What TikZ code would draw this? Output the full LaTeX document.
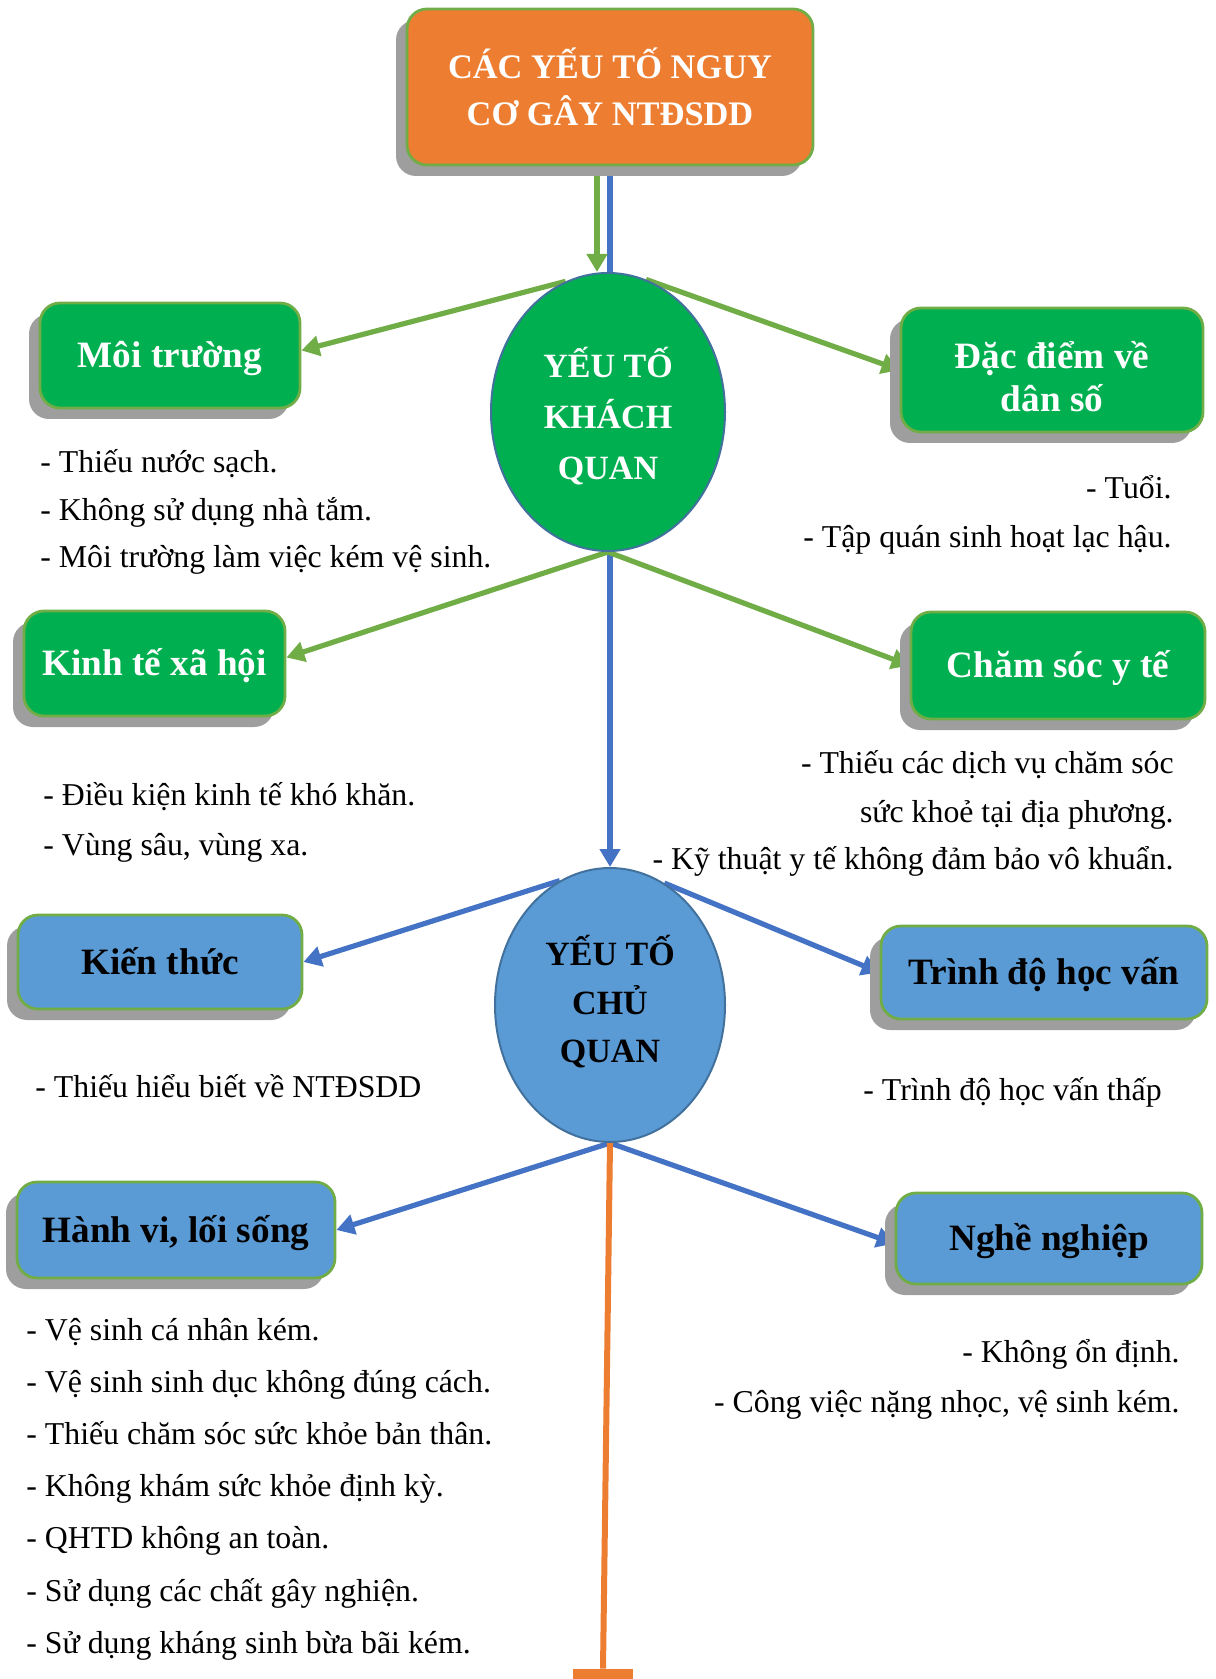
\documentclass[tikz,border=0pt]{standalone}
\usepackage{fontspec}
\setmainfont{Liberation Serif}
\usetikzlibrary{shapes.geometric, arrows.meta, shadows, backgrounds}
\definecolor{orangeF}{HTML}{ED7D31}
\definecolor{greenF}{HTML}{00B050}
\definecolor{blueF}{HTML}{5B9BD5}
\definecolor{greenL}{HTML}{70AD47}
\definecolor{blueL}{HTML}{4472C4}
\definecolor{ellB}{HTML}{41719C}
\definecolor{shadowG}{HTML}{9E9E9E}
\begin{document}
\begin{tikzpicture}[x=0.5pt, y=-0.5pt,
  boxbase/.style={rectangle, rounded corners=10pt, draw=greenL, line width=1.4pt, align=center, inner sep=0pt,
    font=\fontsize{18.6}{20}\selectfont\bfseries,
    general shadow={fill=shadowG, shadow xshift=-5.5pt, shadow yshift=-5.5pt}},
  oneline/.style={text height=15pt, text depth=2.6pt},
  gbox/.style={boxbase, fill=greenF, text=white},
  bbox/.style={boxbase, fill=blueF, text=black},
  tbox/.style={boxbase, fill=orangeF, text=white, font=\fontsize{17.2}{23.5}\selectfont\bfseries},
  ell/.style={ellipse, draw=ellB, line width=1pt, inner sep=0pt},
  ctext/.style={inner sep=0pt, align=center},
  lst/.style={inner sep=0pt, font=\fontsize{15.9}{20}\selectfont},
  garrow/.style={draw=greenL, line width=2.6pt, -{Triangle[length=9pt,width=10pt]}},
  barrow/.style={draw=blueL, line width=2.6pt, -{Triangle[length=9pt,width=10pt]}},
  oline/.style={draw=orangeF, line width=3pt},
]
\useasboundingbox (0,0) rectangle (1215,1679);

% main nodes
\node[tbox, minimum width=203pt, minimum height=78pt] (title) at (610,87) {CÁC YẾU TỐ NGUY\\CƠ GÂY NTĐSDD};
\node[ell, fill=greenF, minimum width=117pt, minimum height=139pt] (e1) at (608,412) {};
\node[ctext, text=white, font=\fontsize{17}{25.5}\selectfont\bfseries] (e1t) at ([yshift=-2pt]e1.center) {YẾU TỐ\\KHÁCH\\QUAN};
\node[ell, fill=blueF, minimum width=115pt, minimum height=137pt] (e2) at (610,1005) {};
\node[ctext, text=black, font=\fontsize{17}{24.3}\selectfont\bfseries] (e2t) at ([yshift=1.5pt]e2.center) {YẾU TỐ\\CHỦ\\QUAN};

\node[gbox, oneline, minimum width=130pt, minimum height=52.5pt] (mt) at (170,355.5) {Môi trường};
\node[gbox, minimum width=151pt, minimum height=62pt] (dd) at (1052,370) {};
\node[ctext, text=white, font=\fontsize{18.6}{21.4}\selectfont\bfseries] (ddt) at ([yshift=-3.5pt]dd.center) {Đặc điểm về\\dân số};
\node[gbox, oneline, minimum width=130.5pt, minimum height=52.5pt] (kt) at (154.5,663.5) {Kinh tế xã hội};
\node[gbox, oneline, minimum width=147pt, minimum height=53.5pt] (cs) at (1058,665.5) {Chăm sóc y tế};
\node[bbox, oneline, minimum width=142pt, minimum height=47pt] (kien) at (160,962) {Kiến thức};
\node[bbox, oneline, minimum width=163pt, minimum height=46.5pt] (td) at (1044,972.5) {Trình độ học vấn};
\node[bbox, oneline, minimum width=159pt, minimum height=48pt] (hv) at (176,1230) {Hành vi, lối sống};
\node[bbox, oneline, minimum width=153pt, minimum height=45.5pt] (nn) at (1049,1238.5) {Nghề nghiệp};
\node[fill=orangeF, minimum width=30pt, minimum height=8pt, inner sep=0pt] (obar) at (603,1677) {};

% lists
\node[lst, anchor=base west] (mt1) at (40,473) {- Thiếu nước sạch.};
\node[lst, anchor=base west] (mt2) at (40,520) {- Không sử dụng nhà tắm.};
\node[lst, anchor=base west] (mt3) at (40,567) {- Môi trường làm việc kém vệ sinh.};

\node[lst, anchor=base east] (dd1) at (1172,498) {- Tuổi.};
\node[lst, anchor=base east] (dd2) at (1172,547) {- Tập quán sinh hoạt lạc hậu.};

\node[lst, anchor=base west] (kt1) at (43,805) {- Điều kiện kinh tế khó khăn.};
\node[lst, anchor=base west] (kt2) at (43,855) {- Vùng sâu, vùng xa.};

\node[lst, anchor=base east] (cs1) at (1174,773) {- Thiếu các dịch vụ chăm sóc};
\node[lst, anchor=base east] (cs2) at (1174,822) {sức khoẻ tại địa phương.};
\node[lst, anchor=base east] (cs3) at (1174,869) {- Kỹ thuật y tế không đảm bảo vô khuẩn.};

\node[lst, anchor=base west] (kien1) at (35,1097) {- Thiếu hiểu biết về NTĐSDD};
\node[lst, anchor=base west] (td1) at (863,1100) {- Trình độ học vấn thấp};

\node[lst, anchor=base west] (hv1) at (26,1340) {- Vệ sinh cá nhân kém.};
\node[lst, anchor=base west] (hv2) at (26,1392) {- Vệ sinh sinh dục không đúng cách.};
\node[lst, anchor=base west] (hv3) at (26,1444) {- Thiếu chăm sóc sức khỏe bản thân.};
\node[lst, anchor=base west] (hv4) at (26,1496) {- Không khám sức khỏe định kỳ.};
\node[lst, anchor=base west] (hv5) at (26,1548) {- QHTD không an toàn.};
\node[lst, anchor=base west] (hv6) at (26,1601) {- Sử dụng các chất gây nghiện.};
\node[lst, anchor=base west] (hv7) at (26,1653) {- Sử dụng kháng sinh bừa bãi kém.};

\node[lst, anchor=base east] (nn1) at (1180,1362) {- Không ổn định.};
\node[lst, anchor=base east] (nn2) at (1180,1412) {- Công việc nặng nhọc, vệ sinh kém.};

% connectors
\begin{scope}[on background layer]
\draw[barrow] (title.south) -- (e2.north);
\draw[garrow] ([xshift=-6.5pt]title.south) -- ([xshift=-6.5pt]title.south |- e1.north);
\draw[garrow] (e1.108) -- ([yshift=2.5pt]mt.east);
\draw[garrow] (e1.74) -- (dd.west);
\draw[garrow] (e1.south) -- ([yshift=3pt]kt.east);
\draw[garrow] (e1.south) -- (cs.west);
\draw[barrow] (e2.112) -- (kien.east);
\draw[barrow] (e2.66) -- (td.west);
\draw[barrow] (e2.south) -- (hv.east);
\draw[barrow] (e2.south) -- ([yshift=-2.5pt]nn.west);
\draw[oline] (e2.south) -- (obar.north);
\end{scope}
\end{tikzpicture}
\end{document}
